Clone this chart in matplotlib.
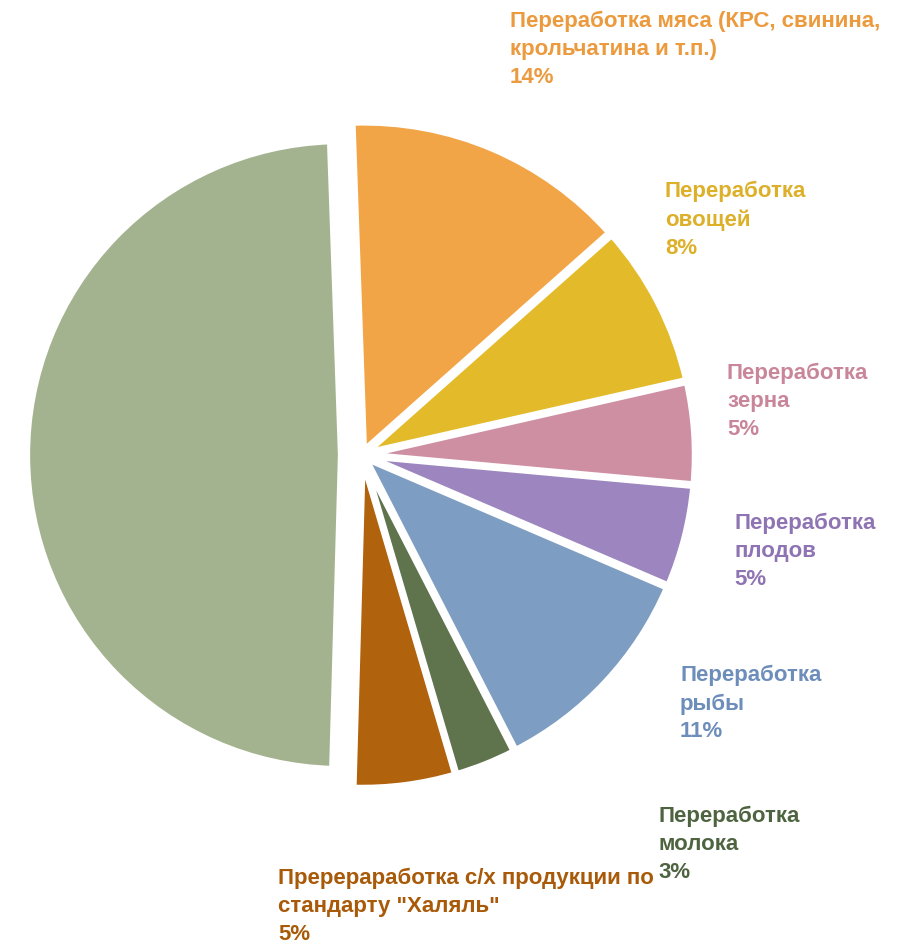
import matplotlib.pyplot as plt

plt.rcParams['font.family'] = ['Liberation Sans', 'DejaVu Sans']

# Доли направлений переработки, %
names = [
    'Переработка мяса (КРС, свинина,\nкрольчатина и т.п.)',
    'Переработка\nовощей',
    'Переработка\nзерна',
    'Переработка\nплодов',
    'Переработка\nрыбы',
    'Переработка\nмолока',
    'Пререраработка с/х продукции по\nстандарту "Халяль"',
    '',
]
values = [14, 8, 5, 5, 11, 3, 5, 49]
colors = ['#F2A546', '#E3BB2A', '#CE8FA3', '#9D86BF',
          '#7E9DC2', '#5F734D', '#B0620C', '#A4B38F']
text_colors = ['#EC9A3E', '#DDB02A', '#C9869B', '#8E74B3',
               '#6D8DBA', '#4E6440', '#A85A08', None]
# положение подписей в пикселях (левый край, верх)
label_pos = [(510, 11), (665, 181), (727, 363), (734, 513),
             (680, 665), (658, 806), (278, 868), None]

W, H = 907, 950
cx, cy, r_px = 362, 455, 328

fig = plt.figure(figsize=(W / 100, H / 100), dpi=100)
ax = fig.add_axes([0, 0, 1, 1])

# большой сектор отодвинут влево и чуть меньше по радиусу
explode = [0.015] * 7 + [0.064]
wedges, _ = ax.pie(values, colors=colors, startangle=92, counterclock=False,
                   explode=explode, radius=1, center=(0, 0),
                   wedgeprops=dict(edgecolor='white', linewidth=4.5))
wedges[-1].set_radius(314 / r_px)

ax.set_xlim(-cx / r_px, (W - cx) / r_px)
ax.set_ylim(-(H - cy) / r_px, cy / r_px)
ax.set_aspect('equal')
ax.axis('off')

for name, v, tc, pos in zip(names, values, text_colors, label_pos):
    if pos is None:
        continue
    fig.text(pos[0] / W, 1 - pos[1] / H, f'{name}\n{v}%', color=tc,
             fontsize=16, fontweight='bold', ha='left', va='top',
             linespacing=1.43)

fig.savefig('out.png', dpi=100)
